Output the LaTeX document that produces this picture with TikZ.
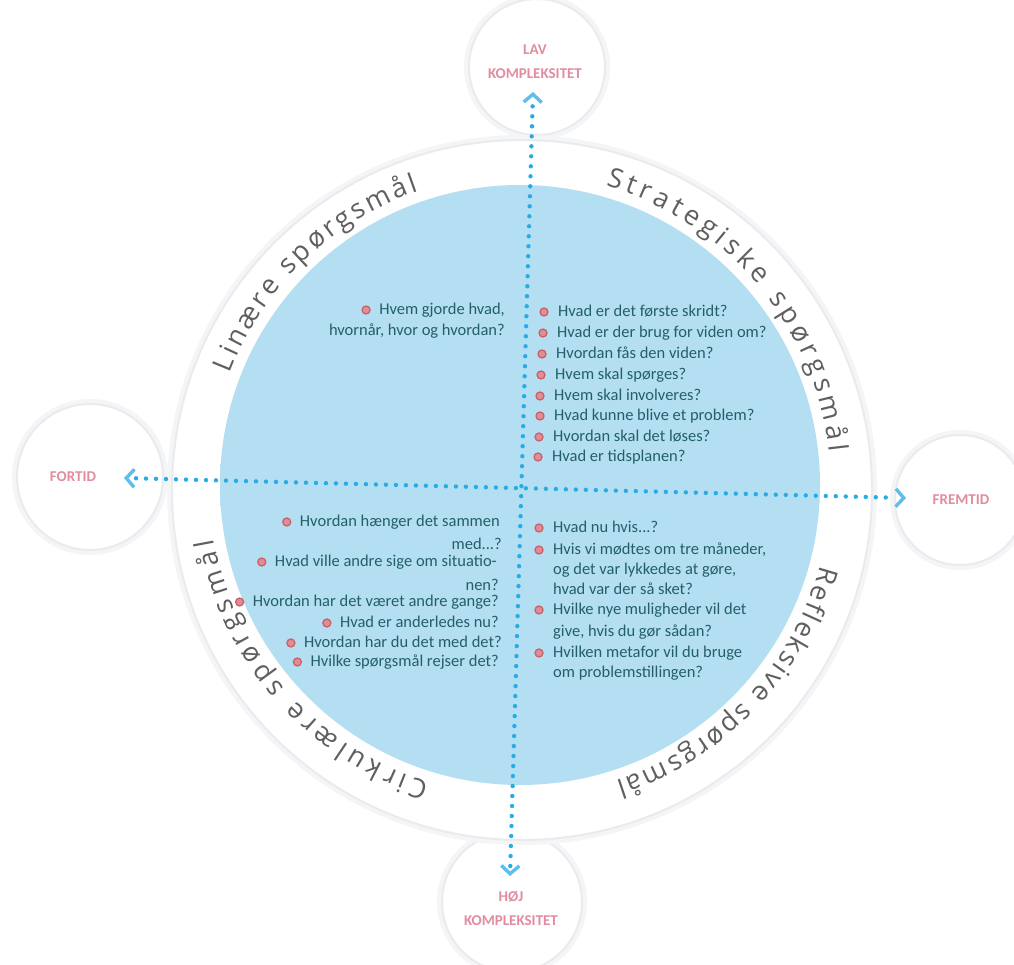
\documentclass[tikz,border=0pt]{standalone}
\usepackage{fontspec}
\setmainfont{Carlito}
\newfontfamily\arcfont{Open Sans}
\usetikzlibrary{arrows.meta,decorations.text,calc}
\definecolor{qtext}{RGB}{35,95,105}
\definecolor{bul}{RGB}{205,95,105}
\definecolor{pinklab}{RGB}{226,140,160}
\definecolor{arcgrey}{RGB}{95,95,95}
\definecolor{dotblue}{RGB}{40,172,232}
\definecolor{tipblue}{RGB}{95,190,235}
\definecolor{bIn}{RGB}{180,223,242}
\definecolor{bOut}{RGB}{120,198,236}
\definecolor{rimgrey}{RGB}{234,235,239}
\pgfdeclareradialshading{bluedisc}{\pgfpoint{0bp}{0bp}}{color(0bp)=(bIn); color(46bp)=(bIn); color(49.5bp)=(bOut); color(50bp)=(bOut)}
\newcommand\arcf{\arcfont\fontsize{27}{27}\selectfont}
\begin{document}
\begin{tikzpicture}[x=1pt,y=1pt,
  softc/.style={circle,inner sep=0pt,fill=white,draw=rimgrey,line width=2pt,
    preaction={draw=rimgrey!50,line width=10pt}},
  lab/.style={font=\bfseries\fontsize{15}{24}\selectfont,text=pinklab,align=center,inner sep=0pt},
  qs/.style={font=\fontsize{16.5}{16.5}\selectfont,text=qtext,inner sep=0pt},
  qL/.style={qs,anchor=base west},
  qR/.style={qs,anchor=base east},
  bulletdot/.style={circle,fill=bul!70,draw=bul,line width=1.3pt,minimum size=8pt,inner sep=0pt},
  dots/.style={draw=dotblue,line width=4.4pt,line cap=round,dash pattern=on 0pt off 10pt},
  tipline/.style={draw=tipblue,line width=3.4pt,-{Straight Barb[length=8pt,width=18pt,line width=3.4pt]}},
  arctext/.style={decorate,decoration={text along path,text align=fit to path,text color=arcgrey}}
]
\useasboundingbox (0,0) rectangle (1014,964);
\fill[white] (0,0) rectangle (1014,964);

% outer small circles
\node[softc,minimum size=136pt] (topc) at (537,897) {};
\node[softc,minimum size=146pt] (leftc) at (90,487) {};
\node[softc,minimum size=130pt] (rightc) at (960,464) {};
\node[softc,minimum size=140pt] (botc) at (512,62) {};

% ring and disc
\node[softc,minimum size=700pt] (ring) at (522,474) {};
\node[circle,inner sep=0pt,minimum size=600pt,shading=bluedisc] (disc) at (520,479) {};

% labels
\node[lab] (lav) at (535,902) {LAV\\KOMPLEKSITET};
\node[lab] (hoj) at (511,56) {HØJ\\KOMPLEKSITET};
\node[lab] (fortid) at (73,487) {FORTID};
\node[lab] (fremtid) at (961,464) {FREMTID};

% axes
\coordinate (vtop) at (533,872);
\coordinate (vbot) at (510,88);
\coordinate (hl) at (124,486);
\coordinate (hr) at (906,466);
\draw[dots] ($(vbot)!10pt!(vtop)$) -- ($(vtop)!10pt!(vbot)$);
\draw[dots] ($(hl)!12pt!(hr)$) -- ($(hr)!12pt!(hl)$);
\draw[tipline] ($(vtop)!3pt!(vbot)$) -- (vtop);
\draw[tipline] ($(vbot)!3pt!(vtop)$) -- (vbot);
\draw[tipline] ($(hl)!3pt!(hr)$) -- (hl);
\draw[tipline] ($(hr)!3pt!(hl)$) -- (hr);

% curved titles
\path[arctext,decoration={text={|\arcf|Linære spørgsmål}}]
  ([shift={(159:311)}]disc.center) arc[start angle=159,end angle=109,radius=311];
\path[arctext,decoration={text={|\arcf|Strategiske spørgsmål}}]
  ([shift={(74:311)}]disc.center) arc[start angle=74,end angle=6,radius=311];
\path[arctext,decoration={text={|\arcf|Refleksive spørgsmål}}]
  ([shift={(-15:311)}]disc.center) arc[start angle=-15,end angle=-72,radius=311];
\path[arctext,decoration={text={|\arcf|Cirkulære spørgsmål}}]
  ([shift={(253:311)}]disc.center) arc[start angle=253,end angle=190,radius=311];

% upper left
\node[qR] (ul1) at (505,649) {Hvem gjorde hvad,};
\node[qR] (ul2) at (505,628) {hvornår, hvor og hvordan?};
\node[bulletdot] (bul1) at ([xshift=-13pt,yshift=5pt]ul1.base west) {};

% upper right
\node[qL] (ur1) at (558,647) {Hvad er det første skridt?};
\node[qL] (ur2) at (557,626) {Hvad er der brug for viden om?};
\node[qL] (ur3) at (556,605) {Hvordan fås den viden?};
\node[qL] (ur4) at (555,584) {Hvem skal spørges?};
\node[qL] (ur5) at (554,563) {Hvem skal involveres?};
\node[qL] (ur6) at (554,543) {Hvad kunne blive et problem?};
\node[qL] (ur7) at (553,522) {Hvordan skal det løses?};
\node[qL] (ur8) at (552,502) {Hvad er tidsplanen?};
\foreach \n in {ur1,ur2,ur3,ur4,ur5,ur6,ur7,ur8}
  \node[bulletdot] (b\n) at ([xshift=-14pt,yshift=5pt]\n.base west) {};

% lower left
\node[qR] (ll1) at (500,437) {Hvordan hænger det sammen};
\node[qR] (ll1b) at (502,414) {med...?};
\node[qR] (ll2) at (497,397) {Hvad ville andre sige om situatio-};
\node[qR] (ll2b) at (499,373) {nen?};
\node[qR] (ll3) at (499,357) {Hvordan har det været andre gange?};
\node[qR] (ll4) at (499,336) {Hvad er anderledes nu?};
\node[qR] (ll5) at (502,316) {Hvordan har du det med det?};
\node[qR] (ll6) at (499,297) {Hvilke spørgsmål rejser det?};
\foreach \n in {ll1,ll2,ll3,ll4,ll5,ll6}
  \node[bulletdot] (b\n) at ([xshift=-13pt,yshift=5pt]\n.base west) {};

% lower right
\node[qL] (lr1) at (553,431) {Hvad nu hvis...?};
\node[qL] (lr2) at (553,409) {Hvis vi mødtes om tre måneder,};
\node[qL] (lr2b) at (553,389) {og det var lykkedes at gøre,};
\node[qL] (lr2c) at (553,369) {hvad var der så sket?};
\node[qL] (lr3) at (553,349) {Hvilke nye muligheder vil det};
\node[qL] (lr3b) at (553,327) {give, hvis du gør sådan?};
\node[qL] (lr4) at (553,306) {Hvilken metafor vil du bruge};
\node[qL] (lr4b) at (553,286) {om problemstillingen?};
\foreach \n in {lr1,lr2,lr3,lr4}
  \node[bulletdot] (b\n) at ([xshift=-14pt,yshift=5pt]\n.base west) {};
\end{tikzpicture}
\end{document}
